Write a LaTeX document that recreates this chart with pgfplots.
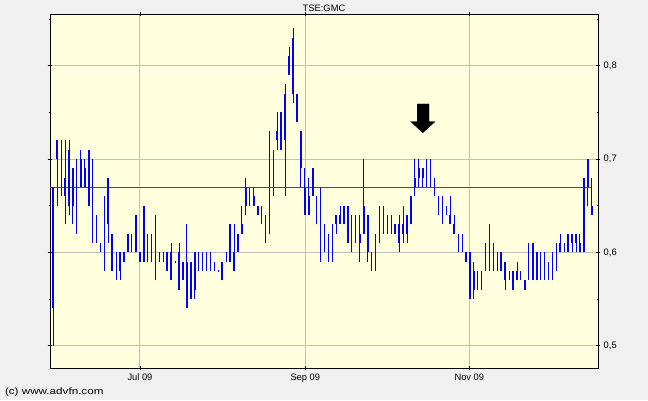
\documentclass[border=0pt]{standalone}
\usepackage{pgfplots}
\pgfplotsset{compat=1.18}
\usepackage{pgfplotstable}
\usepackage{fontspec}
\setmainfont{Liberation Sans}
\definecolor{bggray}{HTML}{F0F0F0}
\definecolor{plotbg}{HTML}{FFFFDD}
\definecolor{gridgray}{HTML}{C0C0C0}
\definecolor{barblue}{HTML}{0000FF}
\pgfplotstableread{
i l h bl bh
0 0.50 0.67 0.54 0.67
1 0.65 0.72 0.70 0.72
2 0.66 0.72 0.66 0.66
3 0.63 0.72 0.66 0.68
4 0.64 0.72 0.65 0.71
5 0.63 0.69 0.65 0.69
6 0.62 0.70 0.62 0.62
7 0.67 0.71 0.67 0.70
8 0.67 0.70 0.67 0.69
9 0.65 0.71 0.65 0.71
10 0.61 0.70 0.63 0.66
11 0.61 0.64 0.61 0.61
12 0.60 0.61 0.60 0.61
13 0.58 0.66 0.58 0.66
14 0.61 0.68 0.63 0.68
15 0.58 0.62 0.58 0.62
16 0.57 0.60 0.57 0.57
17 0.57 0.60 0.58 0.60
18 0.59 0.60 0.59 0.60
19 0.60 0.62 0.60 0.62
20 0.60 0.62 0.60 0.60
21 0.60 0.64 0.60 0.64
22 0.59 0.60 0.59 0.60
23 0.59 0.65 0.59 0.65
24 0.59 0.62 0.59 0.62
25 0.59 0.62 0.59 0.62
26 0.57 0.64 0.57 0.64
27 0.59 0.60 0.59 0.60
28 0.59 0.60 0.59 0.60
29 0.58 0.60 0.58 0.60
30 0.57 0.61 0.57 0.60
31 0.589 0.591 0.59 0.59
32 0.56 0.61 0.56 0.60
33 0.57 0.59 0.57 0.59
34 0.54 0.63 0.54 0.59
35 0.55 0.59 0.55 0.59
36 0.55 0.60 0.56 0.60
37 0.58 0.60 0.58 0.58
38 0.58 0.60 0.58 0.60
39 0.58 0.60 0.58 0.58
40 0.58 0.60 0.58 0.60
41 0.58 0.59 0.58 0.58
42 0.579 0.581 0.58 0.58
43 0.57 0.59 0.57 0.59
44 0.59 0.60 0.59 0.59
45 0.59 0.63 0.59 0.63
46 0.58 0.63 0.58 0.60
47 0.60 0.62 0.60 0.62
48 0.62 0.65 0.62 0.63
49 0.64 0.68 0.65 0.67
50 0.65 0.67 0.65 0.65
51 0.65 0.67 0.65 0.66
52 0.64 0.65 0.64 0.65
53 0.63 0.65 0.63 0.63
54 0.61 0.64 0.61 0.62
55 0.62 0.73 0.63 0.65
56 0.66 0.71 0.67 0.71
57 0.71 0.75 0.72 0.73
58 0.71 0.75 0.71 0.75
59 0.66 0.78 0.72 0.77
60 0.79 0.82 0.79 0.81
61 0.76 0.84 0.77 0.83
62 0.74 0.77 0.74 0.77
63 0.67 0.73 0.69 0.73
64 0.64 0.69 0.64 0.67
65 0.64 0.68 0.64 0.66
66 0.66 0.69 0.66 0.69
67 0.63 0.66 0.63 0.66
68 0.59 0.67 0.60 0.66
69 0.60 0.63 0.60 0.62
70 0.59 0.62 0.59 0.61
71 0.59 0.63 0.61 0.62
72 0.62 0.64 0.63 0.64
73 0.63 0.65 0.63 0.64
74 0.63 0.65 0.63 0.65
75 0.61 0.65 0.61 0.65
76 0.60 0.64 0.60 0.60
77 0.61 0.64 0.61 0.61
78 0.59 0.64 0.61 0.62
79 0.62 0.70 0.62 0.65
80 0.59 0.64 0.60 0.64
81 0.58 0.60 0.58 0.60
82 0.58 0.62 0.58 0.58
83 0.61 0.65 0.61 0.63
84 0.62 0.65 0.62 0.62
85 0.62 0.64 0.62 0.62
86 0.62 0.64 0.62 0.62
87 0.62 0.63 0.62 0.63
88 0.60 0.64 0.61 0.63
89 0.61 0.65 0.62 0.63
90 0.61 0.64 0.62 0.64
91 0.63 0.66 0.63 0.66
92 0.66 0.70 0.67 0.68
93 0.67 0.70 0.68 0.69
94 0.67 0.69 0.68 0.69
95 0.67 0.70 0.68 0.70
96 0.67 0.70 0.67 0.67
97 0.66 0.68 0.66 0.68
98 0.64 0.66 0.64 0.65
99 0.63 0.66 0.64 0.65
100 0.64 0.65 0.64 0.64
101 0.63 0.66 0.63 0.64
102 0.62 0.64 0.62 0.63
103 0.60 0.62 0.60 0.60
104 0.60 0.62 0.60 0.60
105 0.59 0.60 0.59 0.60
106 0.55 0.60 0.55 0.60
107 0.55 0.59 0.56 0.58
108 0.56 0.58 0.56 0.56
109 0.56 0.58 0.56 0.56
110 0.58 0.61 0.58 0.59
111 0.58 0.63 0.58 0.61
112 0.58 0.61 0.58 0.61
113 0.58 0.60 0.59 0.60
114 0.58 0.60 0.58 0.60
115 0.56 0.59 0.57 0.59
116 0.57 0.58 0.57 0.57
117 0.56 0.58 0.56 0.58
118 0.57 0.59 0.57 0.58
119 0.57 0.58 0.57 0.57
120 0.56 0.57 0.56 0.57
121 0.57 0.61 0.57 0.57
122 0.57 0.61 0.57 0.61
123 0.57 0.60 0.57 0.60
124 0.57 0.60 0.58 0.59
125 0.57 0.60 0.58 0.59
126 0.57 0.59 0.57 0.59
127 0.57 0.60 0.57 0.60
128 0.58 0.61 0.58 0.58
129 0.60 0.62 0.60 0.61
130 0.60 0.61 0.60 0.60
131 0.60 0.62 0.60 0.62
132 0.60 0.62 0.61 0.62
133 0.60 0.62 0.61 0.62
134 0.60 0.62 0.60 0.61
135 0.60 0.68 0.60 0.68
136 0.65 0.70 0.67 0.70
137 0.64 0.68 0.64 0.65
}\bars
\begin{document}
\begin{tikzpicture}
\fill[bggray] (-37.5pt,-24pt) rectangle (448.5pt,276pt);
\path[use as bounding box] (-37.5pt,-24pt) rectangle (448.5pt,276pt);
\begin{axis}[
  at={(0pt,0pt)}, anchor=south west,
  scale only axis, width=411pt, height=265.5pt,
  xmin=-0.84, xmax=138.6, ymin=0.4761, ymax=0.8554,
  axis background/.style={fill=plotbg},
  axis line style={line width=0.75pt, black},
  xtick={22.06,64.12,105.85},
  xticklabels={Jul 09, Sep 09, Nov 09},
  ytick={0.5,0.6,0.7,0.8},
  yticklabels={{0,5},{0,6},{0,7},{0,8}},
  minor ytick={0.55,0.65,0.75,0.85},
  yticklabel pos=right,
  xmajorgrids, ymajorgrids,
  major grid style={gridgray, line width=0.75pt},
  tick align=center,
  major tick length=3.5pt, minor tick length=2pt,
  tick style={black, line width=0.6pt},
  ticklabel style={font=\fontsize{7}{8}\selectfont},
  yticklabel style={anchor=west, xshift=-1pt},
  xticklabel style={yshift=1pt},
]
\addplot[red, line width=0.75pt, forget plot] coordinates {(-0.84,0.6697) (137,0.6697)};
\addplot[draw=none, forget plot, error bars/.cd, y dir=plus, y explicit, error mark=none,
  error bar style={draw=barblue, line width=0.75pt, line cap=butt}]
  table[x=i, y=l, y error plus expr={\thisrow{h}-\thisrow{l}}] {\bars};
\addplot[draw=none, forget plot, error bars/.cd, y dir=plus, y explicit, error mark=none,
  error bar style={draw=barblue, line width=1.25pt, line cap=butt}]
  table[x=i, y=bl, y error plus expr={\thisrow{bh}-\thisrow{bl}}] {\bars};
\addplot[fill=black, draw=black, line width=0.3pt, forget plot] coordinates {
  (92.6,0.759) (95.6,0.759) (95.6,0.740) (97.1,0.740) (94.0,0.7282) (91.0,0.740) (92.6,0.740) (92.6,0.759)} -- cycle;
\end{axis}
\node[anchor=base, font=\fontsize{7}{8}\selectfont, inner sep=0pt] at (205.5pt,267.4pt) {TSE:GMC};
\node[anchor=west, xscale=1.25, font=\fontsize{7}{8}\selectfont, inner sep=0pt] at (-34pt,-18.2pt) {(c) www.advfn.com};
\end{tikzpicture}
\end{document}
